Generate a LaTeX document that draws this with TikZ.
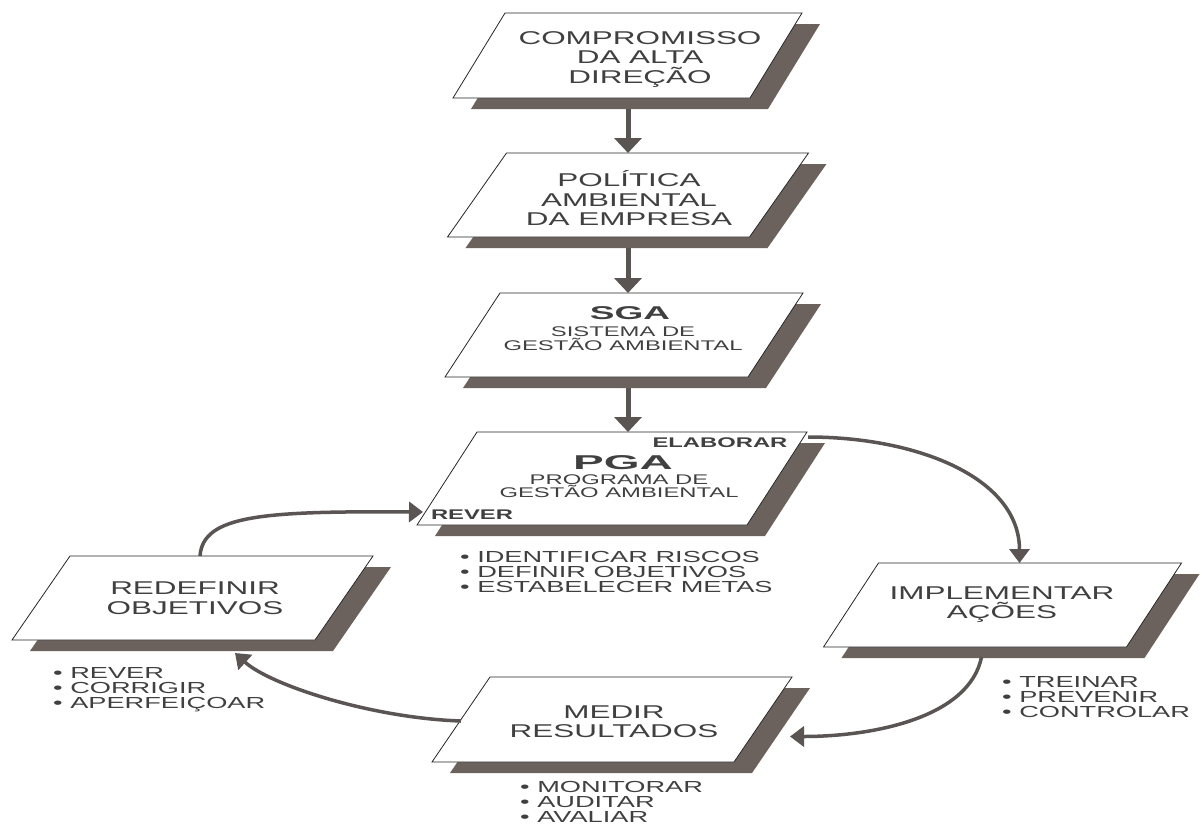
\documentclass[tikz,border=0pt]{standalone}
\usepackage{fontspec}
\setmainfont{Liberation Sans}[FakeStretch=1.7]
\newfontfamily\wideA{Liberation Sans}[FakeStretch=2.0]
\newfontfamily\wideB{Liberation Sans}[FakeStretch=2.3]
\usetikzlibrary{arrows.meta,calc,backgrounds}
\definecolor{shadowc}{HTML}{6B625E}
\definecolor{arrowc}{HTML}{5A5453}
\definecolor{txt}{HTML}{404040}
\newcommand\pgram[2]{%
  \begin{scope}[on background layer]
    \fill[shadowc] ($(#1.north west)+(#2/2+18,11)$) -- ($(#1.north east)+(#2/2+18,11)$) -- ($(#1.south east)+(-#2/2+18,11)$) -- ($(#1.south west)+(-#2/2+18,11)$) -- cycle;
    \path[boxline] ($(#1.north west)+(#2/2,0)$) -- ($(#1.north east)+(#2/2,0)$) -- ($(#1.south east)+(-#2/2,0)$) -- ($(#1.south west)+(-#2/2,0)$) -- cycle;
  \end{scope}}
\tikzset{
  box/.style={minimum width=302pt, minimum height=85pt, inner sep=0pt, outer sep=0pt},
  boxline/.style={draw=black!85, line width=0.8pt, fill=white},
  boxtxt/.style={align=center, inner sep=0pt, text=txt, font=\fontsize{18.5}{19.5}\selectfont},
  subtxt/.style={align=center, inner sep=0pt, text=txt, font=\fontsize{14}{13.5}\selectfont},
  titleA/.style={inner sep=0pt, text=txt, font=\wideA\bfseries\fontsize{18.5}{20}\selectfont},
  titleB/.style={inner sep=0pt, text=txt, font=\wideB\bfseries\fontsize{20}{20}\selectfont},
  tagtxt/.style={inner sep=0pt, text=txt, font=\bfseries\fontsize{14}{14}\selectfont},
  bul/.style={align=left, inner sep=0pt, text=txt, anchor=north west, font=\fontsize{16}{15}\selectfont},
  vflow/.style={draw=arrowc, line width=5pt, -{Triangle[width=27pt,length=15pt]}},
  cflow/.style={draw=arrowc, line width=3.5pt, -{Triangle[width=20pt,length=14pt]}},
}
\begin{document}
\begin{tikzpicture}[x=1pt,y=-1pt]
\begin{scope}[on background layer]
  \fill[white] (0,0) rectangle (1202,825);
\end{scope}
\useasboundingbox (0,0) rectangle (1202,825);

% boxes
\node[box, minimum width=297pt, minimum height=85pt] (b1) at (627.5,55.5) {};
\pgram{b1}{52}
\node[box, minimum width=302pt, minimum height=84pt] (b2) at (628,195) {};
\pgram{b2}{59}
\node[box, minimum width=303pt, minimum height=84pt] (b3) at (624,335) {};
\pgram{b3}{55}
\node[box, minimum width=330pt, minimum height=93pt] (b4) at (612,478.5) {};
\pgram{b4}{60}
\node[box, minimum width=303pt, minimum height=84pt] (b5) at (192.5,598) {};
\pgram{b5}{58}
\node[box, minimum width=303pt, minimum height=84pt] (b6) at (1002.5,605) {};
\pgram{b6}{55}
\node[box, minimum width=302pt, minimum height=85pt] (b7) at (612,719.5) {};
\pgram{b7}{58}

% box texts
\node[boxtxt] (t1) at (640,59) {COMPROMISSO\\DA ALTA\\DIREÇÃO};
\node[boxtxt] (t2) at (629,198.5) {POLÍTICA\\AMBIENTAL\\DA EMPRESA};
\node[titleA] (t3a) at (630,313) {SGA};
\node[subtxt] (t3b) at (623,338.5) {SISTEMA DE\\GESTÃO AMBIENTAL};
\node[titleB] (t4a) at (623,463) {PGA};
\node[subtxt] (t4b) at (619,486) {PROGRAMA DE\\GESTÃO AMBIENTAL};
\node[tagtxt] (t4c) at (720,443) {ELABORAR};
\node[tagtxt] (t4d) at (472,515) {REVER};
\node[boxtxt] (t5) at (195,598) {REDEFINIR\\OBJETIVOS};
\node[boxtxt] (t6) at (1002,604.5) {IMPLEMENTAR\\AÇÕES};
\node[boxtxt] (t7) at (614,721.5) {MEDIR\\RESULTADOS};

% bullet lists (anchor at top of first capital line)
\node[bul] (l4) at (460,551) {• IDENTIFICAR RISCOS\\• DEFINIR OBJETIVOS\\• ESTABELECER METAS};
\node[bul] (l5) at (53,667) {• REVER\\• CORRIGIR\\• APERFEIÇOAR};
\node[bul] (l6) at (1002,676) {• TREINAR\\• PREVENIR\\• CONTROLAR};
\node[bul] (l7) at (520,781) {• MONITORAR\\• AUDITAR\\• AVALIAR};

% straight arrows
\draw[vflow] ($(b1.south -| b2.north)+(0,11)$) -- (b2.north);
\draw[vflow] ($(b2.south)+(0,11)$) -- (b2.south |- b3.north);
\draw[vflow] ($(b3.south -| b2.south)+(0,11)$) -- (b2.south |- b4.north);

% cycle arrows
\draw[cflow] ($(b4.north east)+(31,5)$) .. controls +(110,0) and +(0,-85) .. ($(b6.north)+(17,0)$);
\draw[cflow] ($(b6.south)+(-21,10)$) .. controls +(-12,60) and +(85,0) .. ($(b7.east)+(27,17)$);
\draw[cflow] ($(b7.west)+(0,1.5)$) .. controls +(-90,-3) and +(35,32) .. ($(b5.south)+(42.5,13)$);
\draw[cflow] ($(b5.north)+(7.5,0)$) .. controls +(3,-41) and +(-160,-1) .. ($(b4.south west)+(-24,-13)$);
\end{tikzpicture}
\end{document}
